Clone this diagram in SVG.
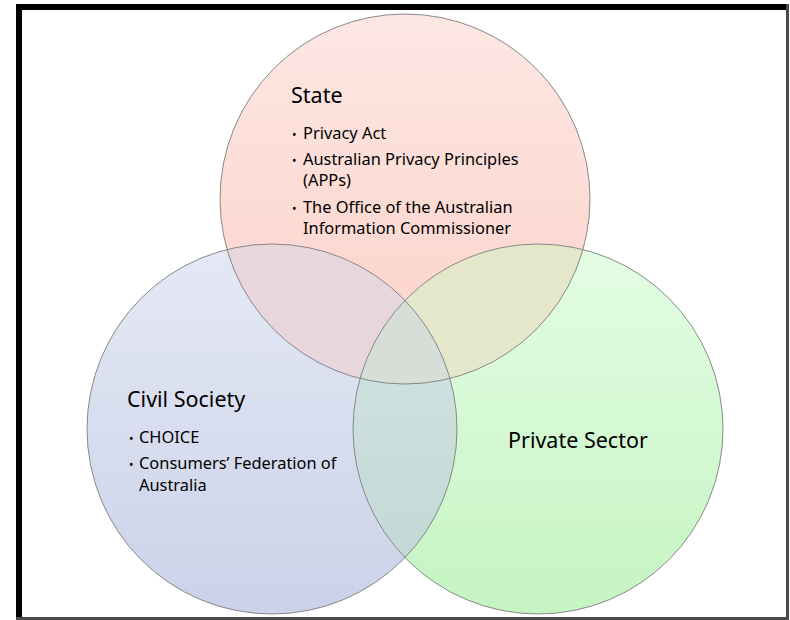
<svg xmlns="http://www.w3.org/2000/svg" width="790" height="620" viewBox="0 0 790 620">
  <defs>
    <style>
      .title { font-family: "Noto Sans", "Liberation Sans", sans-serif; font-size: 21.5px; fill: #000; }
      .item { font-family: "Noto Sans", "Liberation Sans", sans-serif; font-size: 16.4px; fill: #000; }
      .bul { font-size: 12px; }
      .outline { fill: none; stroke: #7d7d7d; stroke-width: 0.9; }
    </style>
    <linearGradient id="gState" x1="0" y1="0" x2="0" y2="1">
      <stop offset="0" stop-color="#fde7e3"/>
      <stop offset="1" stop-color="#fdd1c9"/>
    </linearGradient>
    <linearGradient id="gCivil" x1="0" y1="0" x2="0" y2="1">
      <stop offset="0" stop-color="#e5e9f6"/>
      <stop offset="1" stop-color="#cbd2e8"/>
    </linearGradient>
    <linearGradient id="gPrivate" x1="0" y1="0" x2="0" y2="1">
      <stop offset="0" stop-color="#e4fde4"/>
      <stop offset="1" stop-color="#c5f4c2"/>
    </linearGradient>
    <linearGradient id="gCP" x1="0" y1="0" x2="0" y2="1">
      <stop offset="0" stop-color="#d4e6e3"/>
      <stop offset="1" stop-color="#c0d7d4"/>
    </linearGradient>
    <clipPath id="cState"><circle cx="405" cy="199" r="185"/></clipPath>
    <clipPath id="cCivil"><circle cx="272" cy="429" r="185"/></clipPath>
    <clipPath id="cPrivate"><circle cx="538" cy="429" r="185"/></clipPath>
  </defs>

  <rect x="0" y="0" width="790" height="620" fill="#ffffff"/>

  <g id="frame">
    <rect x="16" y="4" width="6" height="616" fill="#000"/>
    <rect x="16" y="4" width="773" height="6" fill="#000"/>
    <rect x="786" y="4" width="3" height="616" fill="#4a4a4a"/>
    <rect x="16" y="617" width="773" height="3" fill="#4a4a4a"/>
  </g>

  <g id="state">
    <circle cx="405" cy="199" r="185" fill="url(#gState)"/>
  </g>
  <g id="civil-society">
    <circle cx="272" cy="429" r="185" fill="url(#gCivil)"/>
  </g>
  <g id="private-sector">
    <circle cx="538" cy="429" r="185" fill="url(#gPrivate)"/>
  </g>

  <g id="overlaps">
    <g clip-path="url(#cState)">
      <circle cx="272" cy="429" r="185" fill="#e7d7dd"/>
      <circle cx="538" cy="429" r="185" fill="#e4e7ca"/>
    </g>
    <g clip-path="url(#cCivil)">
      <circle cx="538" cy="429" r="185" fill="url(#gCP)"/>
    </g>
    <g clip-path="url(#cState)">
      <g clip-path="url(#cCivil)">
        <circle cx="538" cy="429" r="185" fill="#d7ddd7"/>
      </g>
    </g>
  </g>

  <g id="outlines">
    <circle class="outline" cx="405" cy="199" r="185"/>
    <circle class="outline" cx="272" cy="429" r="185"/>
    <circle class="outline" cx="538" cy="429" r="185"/>
  </g>

  <g id="state-text">
    <text class="title" x="291" y="103">State</text>
    <text class="item" x="292" y="139"><tspan class="bul">•</tspan><tspan x="303">Privacy Act</tspan></text>
    <text class="item" x="292" y="165"><tspan class="bul">•</tspan><tspan x="303">Australian Privacy Principles</tspan></text>
    <text class="item" x="303" y="186">(APPs)</text>
    <text class="item" x="292" y="213"><tspan class="bul">•</tspan><tspan x="303">The Office of the Australian</tspan></text>
    <text class="item" x="303" y="234">Information Commissioner</text>
  </g>

  <g id="civil-text">
    <text class="title" x="127" y="407">Civil Society</text>
    <text class="item" x="129" y="443"><tspan class="bul">•</tspan><tspan x="139">CHOICE</tspan></text>
    <text class="item" x="129" y="469"><tspan class="bul">•</tspan><tspan x="139">Consumers’ Federation of</tspan></text>
    <text class="item" x="139" y="491">Australia</text>
  </g>

  <g id="private-text">
    <text class="title" x="508" y="448">Private Sector</text>
  </g>
</svg>
